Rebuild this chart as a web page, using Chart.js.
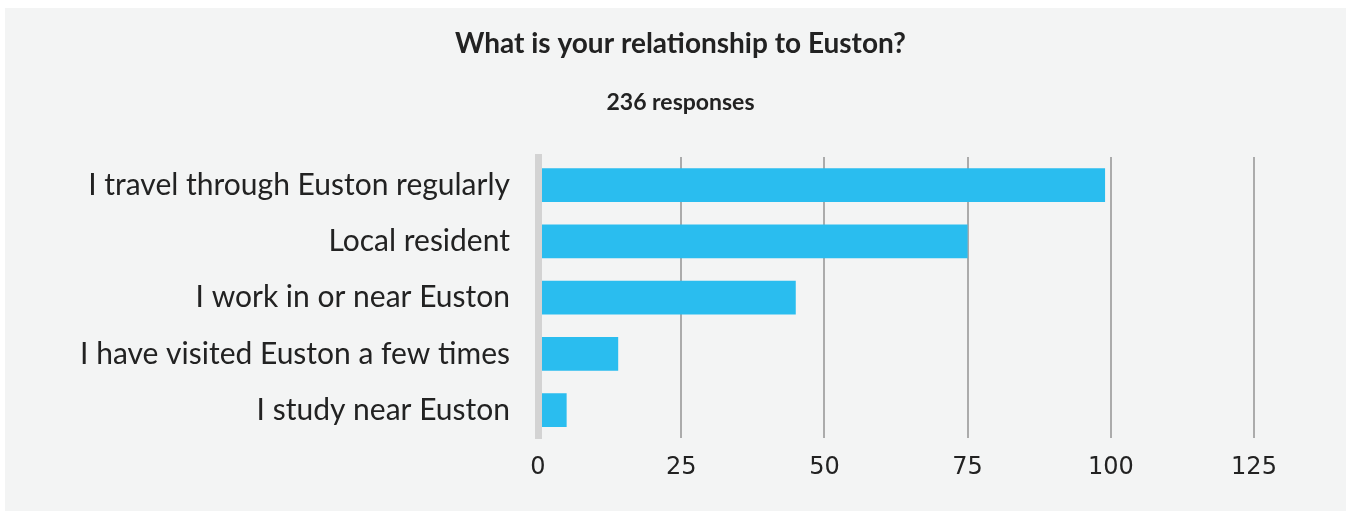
<!DOCTYPE html>
<html lang="en">
<head>
  <meta charset="UTF-8">
  <title>Relationship to Euston</title>
  <script src="https://cdn.jsdelivr.net/npm/chart.js"></script>
  <style>
    body {
      margin: 0;
      background: #fff;
    }
    /* grey panel behind the chart */
    .panel {
      position: absolute;
      left: 5px;
      top: 8px;
      width: 1341px;
      height: 503px;
      background: #f3f4f4;
    }
    .chart-box {
      position: absolute;
      left: 10px;
      top: 0;
      width: 1331px;
      height: 503px;
    }
  </style>
</head>
<body>

<div class="panel">
  <div class="chart-box"><canvas id="relChart"></canvas></div>
</div>

<script>
  const categories = [
    "I travel through Euston regularly",
    "Local resident",
    "I work in or near Euston",
    "I have visited Euston a few times",
    "I study near Euston"
  ];
  const responses = [99, 75, 45, 14, 5];
  const xTicks = [0, 25, 50, 75, 100, 125];

  const titleText = "What is your relationship to Euston?";
  const subtitleText = "236 responses";
  const textColor = "#222222";

  // Title + response count, centred on the whole canvas (the built-in
  // title would centre between the layout paddings instead)
  const headingPlugin = {
    id: "heading",
    afterDraw(chart) {
      const ctx = chart.ctx;
      const cx = chart.width / 2;
      ctx.save();
      ctx.fillStyle = textColor;
      ctx.textAlign = "center";
      ctx.textBaseline = "middle";
      ctx.font = "bold 28px Lato";
      ctx.fillText(titleText, cx, 36);
      ctx.font = "bold 23px Lato";
      ctx.fillText(subtitleText, cx, 95);
      ctx.restore();
    }
  };

  new Chart(document.getElementById("relChart"), {
    type: "bar",
    data: {
      labels: categories,
      datasets: [{
        data: responses,
        backgroundColor: "#2abdef",
        barPercentage: 0.6,
        categoryPercentage: 1
      }]
    },
    plugins: [headingPlugin],
    options: {
      indexAxis: "y",
      responsive: true,
      maintainAspectRatio: false,
      animation: false,
      layout: {
        padding: { top: 149, right: 92, bottom: 14, left: 0 }
      },
      plugins: {
        legend: { display: false },
        tooltip: { enabled: false }
      },
      scales: {
        x: {
          min: xTicks[0],
          max: xTicks[xTicks.length - 1],
          afterBuildTicks: (scale) => {
            scale.ticks = xTicks.map(v => ({ value: v }));
          },
          grid: {
            drawTicks: false,
            lineWidth: 2,
            color: (ctx) => ctx.tick && ctx.tick.value === 0 ? "rgba(0,0,0,0)" : "#ababab"
          },
          border: { display: false },
          ticks: {
            padding: 15,
            color: textColor,
            font: { family: "DejaVu Sans", size: 24 }
          }
        },
        y: {
          afterFit: (scale) => { scale.width = 523; },
          grid: { display: false, drawTicks: false },
          border: { display: true, color: "#d3d3d3", width: 7, z: 1 },
          ticks: {
            padding: 28,
            color: textColor,
            font: { family: "Lato", size: 30 }
          }
        }
      }
    }
  });
</script>
</body>
</html>
